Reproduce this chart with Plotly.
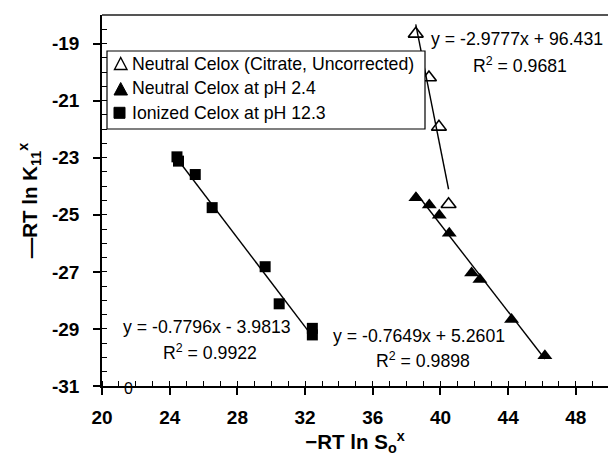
import plotly.graph_objects as go

# ---------------- data ----------------
citrate_x = [38.54, 39.32, 39.91, 40.48]
citrate_y = [-18.66, -20.19, -21.92, -24.63]

neutral_x = [38.55, 39.34, 39.93, 40.52, 41.84, 42.33, 44.20, 46.17]
neutral_y = [-24.40, -24.66, -25.02, -25.65, -27.04, -27.27, -28.67, -29.94]

ionized_x = [24.43, 24.52, 25.51, 26.51, 29.64, 30.47, 32.43, 32.43]
ionized_y = [-22.97, -23.12, -23.59, -24.75, -26.82, -28.12, -28.98, -29.21]

series_names = ["Neutral Celox (Citrate, Uncorrected)",
                "Neutral Celox at pH 2.4",
                "Ionized Celox at pH 12.3"]
fit_slopes = [-2.9777, -0.7649, -0.7796]
fit_intercepts = [96.431, 5.2601, -3.9813]
fit_r2 = ["0.9681", "0.9898", "0.9922"]
fit_eq = ["y = -2.9777x + 96.431", "y = -0.7649x + 5.2601", "y = -0.7796x - 3.9813"]

x_ticks = [20, 24, 28, 32, 36, 40, 44, 48]
x_ticktext = ["20", "24", "28", "32", "36", "40", "44", "48"]
y_ticks = [-31, -29, -27, -25, -23, -21, -19]
y_ticktext = ["-31", "-29", "-27", "-25", "-23", "-21", "-19"]

# ---------------- layout constants ----------------
W, H = 608, 459
ML, MR, MT, MB = 102, 0, 15, 73
PW, PH = W - ML - MR, H - MT - MB
FONT = "Liberation Sans, Arial, Helvetica, sans-serif"
TXT = 17.7


def px(xp):
    return (xp - ML) / PW


def py(yp):
    return (H - MB - yp) / PH


fig = go.Figure()

# regression lines
for xs, m, b in [(citrate_x, fit_slopes[0], fit_intercepts[0]),
                 (neutral_x, fit_slopes[1], fit_intercepts[1]),
                 (ionized_x, fit_slopes[2], fit_intercepts[2])]:
    x0, x1 = min(xs), max(xs)
    fig.add_trace(go.Scatter(x=[x0, x1], y=[m * x0 + b, m * x1 + b], mode="lines",
                             line=dict(color="black", width=1.4),
                             showlegend=False, hoverinfo="skip"))

fig.add_trace(go.Scatter(x=citrate_x, y=citrate_y, mode="markers", name=series_names[0],
                         marker=dict(symbol="triangle-up-open", size=13,
                                     color="black", line=dict(width=1.6, color="black")),
                         showlegend=False))
fig.add_trace(go.Scatter(x=neutral_x, y=neutral_y, mode="markers", name=series_names[1],
                         marker=dict(symbol="triangle-up", size=13, color="black"),
                         showlegend=False))
fig.add_trace(go.Scatter(x=ionized_x, y=ionized_y, mode="markers", name=series_names[2],
                         marker=dict(symbol="square", size=11, color="black"),
                         showlegend=False))

shapes = []
annotations = []

# top border
shapes.append(dict(type="line", xref="paper", yref="paper", x0=0, x1=1, y0=1, y1=1,
                   line=dict(color="#555555", width=2)))

# custom legend
shapes.append(dict(type="rect", xref="paper", yref="paper",
                   x0=px(107), x1=px(425), y0=py(129), y1=py(51),
                   line=dict(color="black", width=1.2), fillcolor="white", layer="above"))
rows = [63.5, 88.5, 112.8]
r = rows[0]
shapes.append(dict(type="path", xref="paper", yref="paper",
                   path=f"M {px(114.5)},{py(r+6)} L {px(127)},{py(r+6)} L {px(120.7)},{py(r-6)} Z",
                   line=dict(color="black", width=1.4), fillcolor="white", layer="above"))
r = rows[1]
shapes.append(dict(type="path", xref="paper", yref="paper",
                   path=f"M {px(114)},{py(r+6.5)} L {px(127.5)},{py(r+6.5)} L {px(120.7)},{py(r-6)} Z",
                   line=dict(color="black", width=1), fillcolor="black", layer="above"))
r = rows[2]
shapes.append(dict(type="rect", xref="paper", yref="paper",
                   x0=px(114), x1=px(125), y0=py(r+5.5), y1=py(r-5.5),
                   line=dict(color="black", width=1), fillcolor="black", layer="above"))
for name, r in zip(series_names, rows):
    annotations.append(dict(text=name, xref="paper", yref="paper", x=px(130), y=py(r),
                            xanchor="left", yanchor="middle", showarrow=False,
                            font=dict(family=FONT, size=TXT, color="black")))

# fit equations
eq_pos = [((429, 39), (471, 65)),
          ((331, 336), (374, 360)),
          ((121, 327), (161, 352))]
for eq, r2, ((ex, ey), (rx, ry)) in zip(fit_eq, fit_r2, eq_pos):
    annotations.append(dict(text=eq, xref="paper", yref="paper", x=px(ex), y=py(ey),
                            xanchor="left", yanchor="middle", showarrow=False,
                            font=dict(family=FONT, size=TXT, color="black")))
    annotations.append(dict(text="R<sup>2</sup> = " + r2, xref="paper", yref="paper",
                            x=px(rx), y=py(ry), xanchor="left", yanchor="middle",
                            showarrow=False,
                            font=dict(family=FONT, size=TXT, color="black")))

# stray "0" label near origin
annotations.append(dict(text="0", xref="paper", yref="paper", x=px(128.3), y=py(388),
                        xanchor="center", yanchor="middle", showarrow=False,
                        font=dict(family=FONT, size=16, color="black")))

fig.update_layout(
    width=W, height=H,
    margin=dict(l=ML, r=MR, t=MT, b=MB, pad=0),
    paper_bgcolor="white", plot_bgcolor="white",
    font=dict(family=FONT, color="black"),
    shapes=shapes, annotations=annotations,
    showlegend=False,
)
fig.update_xaxes(
    range=[20, 49.9], showgrid=False, zeroline=False,
    showline=True, linecolor="black", linewidth=1.5,
    tickmode="array", tickvals=x_ticks, ticktext=x_ticktext,
    ticks="outside", ticklen=7, tickwidth=1.5, tickcolor="black",
    ticklabelstandoff=6,
    tickfont=dict(family=FONT, size=19, color="black", weight="bold"),
    minor=dict(dtick=1, tick0=20, ticks="inside", ticklen=5, tickwidth=1.2, tickcolor="black", showgrid=False),
    title=dict(text="\u2212RT ln S<sub>o</sub><sup>x</sup>", standoff=8,
               font=dict(family=FONT, size=20.5, color="black", weight="bold")),
)
fig.update_yaxes(
    range=[-31, -18], showgrid=False, zeroline=False,
    showline=True, linecolor="black", linewidth=1.5,
    tickmode="array", tickvals=y_ticks, ticktext=y_ticktext,
    ticks="outside", ticklen=7, tickwidth=1.5, tickcolor="black",
    ticklabelstandoff=10,
    tickfont=dict(family=FONT, size=19, color="black", weight="bold"),
    minor=dict(dtick=0.5, tick0=-31, ticks="inside", ticklen=5, tickwidth=1.2, tickcolor="black", showgrid=False),
    title=dict(text="\u2014RT ln K<sub>11</sub><sup>x</sup>", standoff=9,
               font=dict(family=FONT, size=20.5, color="black", weight="bold")),
)

fig.write_html("out.html")
